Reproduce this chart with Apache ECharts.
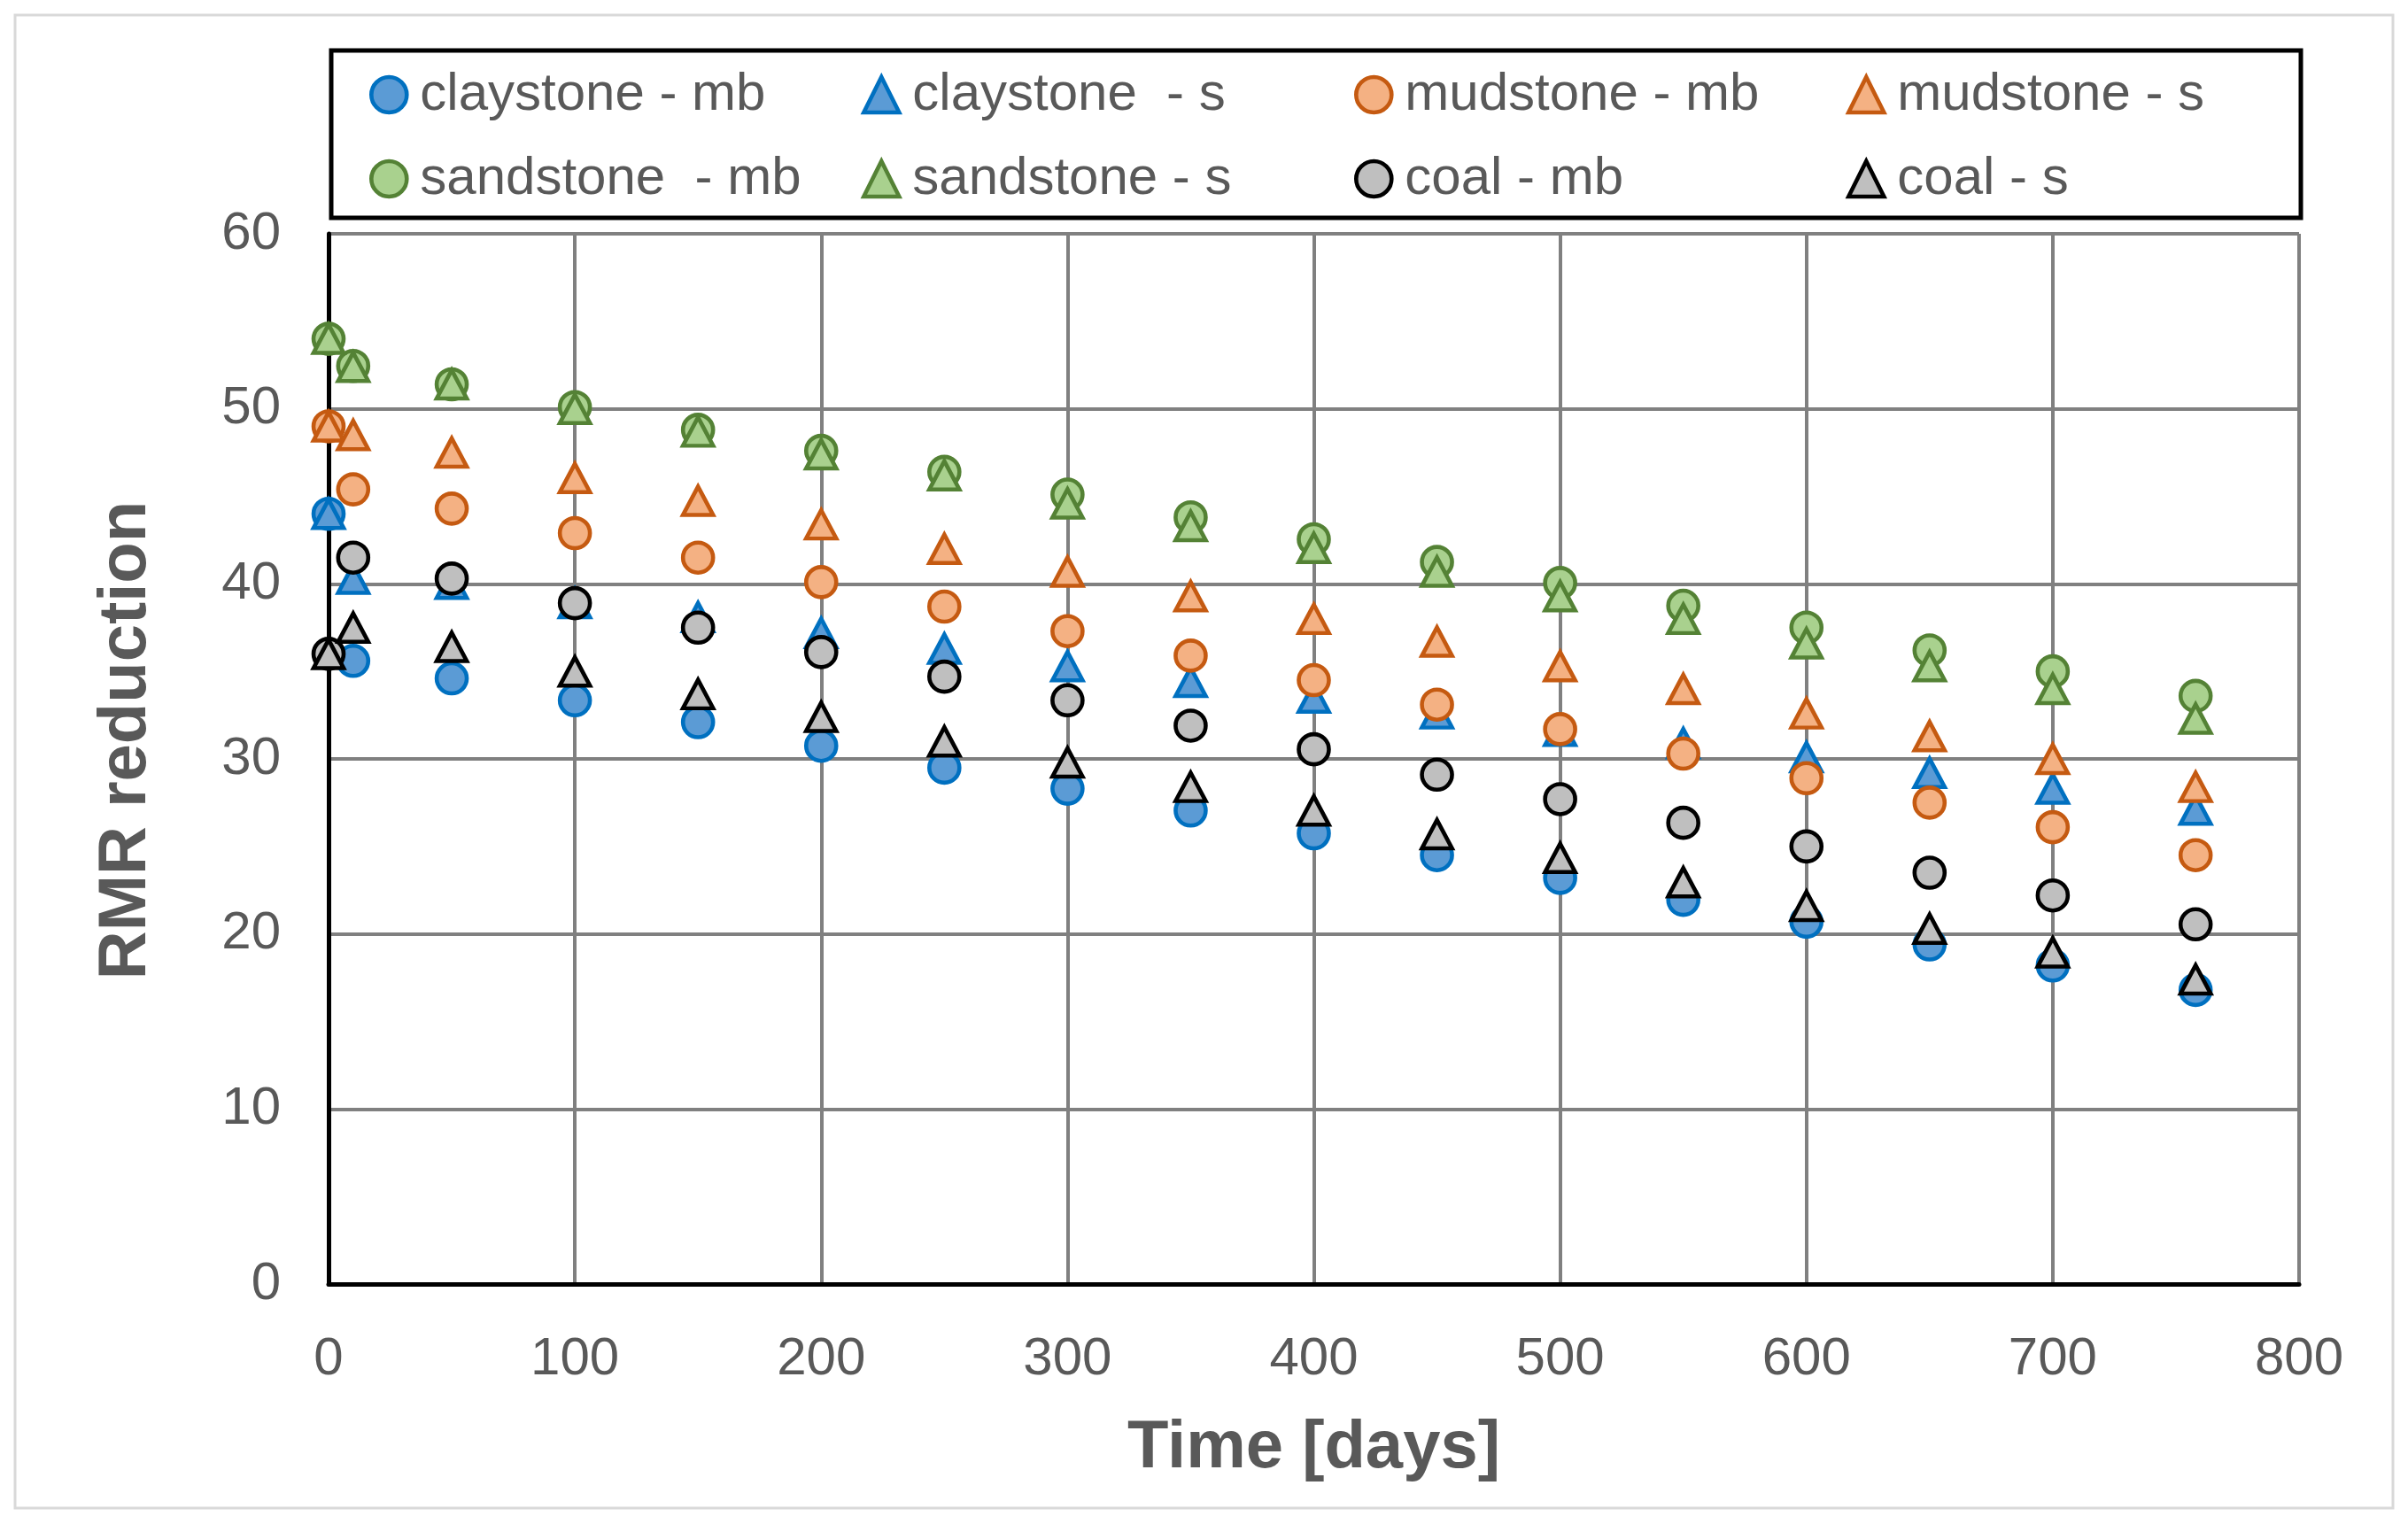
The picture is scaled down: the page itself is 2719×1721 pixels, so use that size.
<!DOCTYPE html>
<html>
<head>
<meta charset="utf-8">
<script src="https://cdn.jsdelivr.net/npm/echarts@6/dist/echarts.min.js"></script>
<style>
html,body{margin:0;padding:0;background:#fff;}
#chart{width:2719px;height:1721px;}
</style>
</head>
<body>
<div id="chart"></div>
<script>
const days = [0, 10, 50, 100, 150, 200, 250, 300, 350, 400, 450, 500, 550, 600, 650, 700, 758];
const claystoneMb = [44, 35.6, 34.6, 33.35, 32.1, 30.75, 29.5, 28.3, 27.05, 25.75, 24.5, 23.2, 21.95, 20.7, 19.4, 18.2, 16.8];
const claystoneS = [44, 40.3, 40, 38.9, 38.1, 37.2, 36.3, 35.3, 34.4, 33.5, 32.6, 31.6, 30.9, 30.1, 29.2, 28.3, 27.1];
const mudstoneMb = [49, 45.4, 44.3, 42.9, 41.5, 40.1, 38.7, 37.3, 35.9, 34.5, 33.1, 31.7, 30.3, 28.9, 27.5, 26.1, 24.5];
const mudstoneS = [49, 48.5, 47.5, 46.05, 44.75, 43.4, 42.0, 40.7, 39.3, 38.0, 36.7, 35.3, 34.0, 32.6, 31.3, 30.0, 28.4];
const sandstoneMb = [54, 52.45, 51.4, 50.1, 48.8, 47.6, 46.4, 45.1, 43.8, 42.55, 41.25, 40.05, 38.75, 37.5, 36.2, 35.0, 33.6];
const sandstoneS = [54, 52.4, 51.4, 50.0, 48.7, 47.4, 46.2, 44.6, 43.3, 42.05, 40.7, 39.3, 38.0, 36.6, 35.3, 34.0, 32.3];
const coalMb = [36, 41.5, 40.3, 38.9, 37.5, 36.1, 34.7, 33.35, 31.9, 30.55, 29.1, 27.7, 26.35, 25.0, 23.5, 22.2, 20.55];
const coalS = [36, 37.5, 36.4, 35.0, 33.7, 32.4, 31.0, 29.8, 28.4, 27.05, 25.7, 24.35, 22.95, 21.6, 20.3, 18.95, 17.4];

const seriesNames = ['claystone - mb', 'claystone  - s', 'mudstone - mb', 'mudstone - s',
                     'sandstone  - mb', 'sandstone - s', 'coal - mb', 'coal - s'];
const seriesData = [claystoneMb, claystoneS, mudstoneMb, mudstoneS, sandstoneMb, sandstoneS, coalMb, coalS];
const fills =   ['#5b9bd5', '#5b9bd5', '#f4b183', '#f4b183', '#a9d18e', '#a9d18e', '#bfbfbf', '#bfbfbf'];
const borders = ['#0070c0', '#0070c0', '#c55a11', '#c55a11', '#548235', '#548235', '#000000', '#000000'];
const shapes =  ['circle', 'triangle', 'circle', 'triangle', 'circle', 'triangle', 'circle', 'triangle'];

const FONT = 'Liberation Sans';
const TXT = '#595959';

const series = seriesNames.map((name, i) => ({
  name: name,
  type: 'scatter',
  symbol: shapes[i],
  symbolSize: shapes[i] === 'circle' ? 34 : [34, 32],
  itemStyle: {color: fills[i], borderColor: borders[i], borderWidth: 4.6, opacity: 1},
  data: days.map((d, k) => [d, seriesData[i][k]]),
  z: 2 + i
}));

const ICON = 40;
const colCenters = [437, 993, 1549, 2105];
const rowTop = [77, 172];
const legends = seriesNames.map((name, i) => ({
  data: [{name: name, icon: shapes[i]}],
  left: colCenters[i % 4] - ICON / 2,
  top: rowTop[Math.floor(i / 4)],
  orient: 'horizontal',
  padding: 0,
  itemWidth: ICON,
  itemHeight: ICON,
  selectedMode: false,
  itemStyle: {borderWidth: 4.6},
  textStyle: {fontFamily: FONT, fontSize: 60, color: TXT, padding: [0, 0, 0, 474 - 437 - ICON / 2 - 7]}
}));

const chart = echarts.init(document.getElementById('chart'), null, {renderer: 'canvas'});
chart.setOption({
  animation: false,
  backgroundColor: '#ffffff',
  grid: {left: 371, right: 123, top: 264, bottom: 271, containLabel: false},
  legend: legends,
  graphic: [
    {type: 'rect', shape: {x: 17, y: 17, width: 2685, height: 1686}, style: {fill: 'none', stroke: '#d9d9d9', lineWidth: 3}, silent: true, z: 0},
    {type: 'rect', shape: {x: 374, y: 57, width: 2224, height: 189}, style: {fill: 'none', stroke: '#000000', lineWidth: 5}, silent: true, z: 10}
  ],
  xAxis: {
    type: 'value', min: 0, max: 800, interval: 100,
    name: 'Time [days]', nameLocation: 'middle', nameGap: 148,
    nameTextStyle: {fontFamily: FONT, fontSize: 76, fontWeight: 'bold', color: TXT},
    axisLine: {show: true, onZero: false, lineStyle: {color: '#000000', width: 5}},
    axisTick: {show: false},
    axisLabel: {fontFamily: FONT, fontSize: 60, color: TXT, margin: 55},
    splitLine: {show: true, lineStyle: {color: '#808080', width: 4}}
  },
  yAxis: {
    type: 'value', min: 0, max: 60, interval: 10,
    name: 'RMR reduction', nameLocation: 'middle', nameGap: 190,
    nameTextStyle: {fontFamily: FONT, fontSize: 76, fontWeight: 'bold', color: TXT, padding: [0, 0, 0, 42]},
    axisLine: {show: true, onZero: false, lineStyle: {color: '#000000', width: 5}},
    axisTick: {show: false},
    axisLabel: {fontFamily: FONT, fontSize: 60, color: TXT, margin: 54},
    splitLine: {show: true, lineStyle: {color: '#808080', width: 4}}
  },
  series: series
});
</script>
</body>
</html>
